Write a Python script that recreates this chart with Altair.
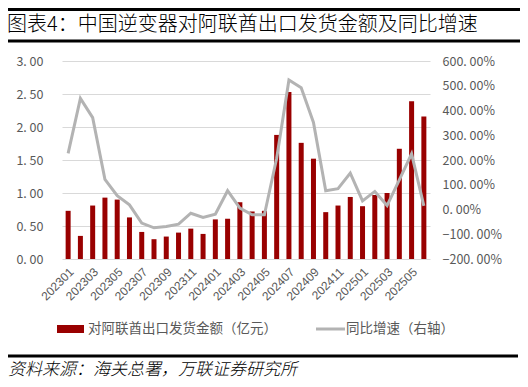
import altair as alt
import pandas as pd

months = ["202301", "202302", "202303", "202304", "202305", "202306", "202307", "202308",
          "202309", "202310", "202311", "202312", "202401", "202402", "202403", "202404",
          "202405", "202406", "202407", "202408", "202409", "202410", "202411", "202412",
          "202501", "202502", "202503", "202504", "202505", "202506"]
amount = [0.73, 0.35, 0.81, 0.93, 0.90, 0.63, 0.41, 0.30, 0.34, 0.40, 0.46, 0.38,
          0.60, 0.61, 0.86, 0.72, 0.73, 1.88, 2.53, 1.76, 1.52, 0.71, 0.81, 0.94,
          0.80, 0.97, 1.00, 1.67, 2.39, 2.16]
yoy = [227, 449, 371, 122, 56, 19, -55, -74, -69, -59, -15, -32,
       -19, 76, 6, -21, -21, 207, 523, 492, 352, 76, 84, 147,
       35, 73, 16, 120, 225, 15]
label_months = months[::2]

title_text = "图表4：中国逆变器对阿联酋出口发货金额及同比增速"
legend_bar = "对阿联酋出口发货金额（亿元）"
legend_line = "同比增速（右轴）"
source_text = "资料来源：海关总署，万联证券研究所"

df = pd.DataFrame({"month": months, "amount": amount, "yoy": yoy})

FONT = "Noto Sans CJK SC"
GREY = "#595959"

x_enc = alt.X("month:O", sort=months, title=None,
              scale=alt.Scale(paddingInner=0, paddingOuter=0),
              axis=alt.Axis(values=label_months, labelAngle=-45, labelFontSize=12,
                            labelColor=GREY, labelFont="Liberation Sans", ticks=False,
                            domain=False, grid=False, labelPadding=7))

bars = alt.Chart(df).mark_bar(size=5, color="#990000").encode(
    x=x_enc,
    y=alt.Y("amount:Q", title=None, scale=alt.Scale(domain=[0, 3], nice=False),
            axis=alt.Axis(values=[0, 0.5, 1, 1.5, 2, 2.5, 3], grid=True, gridColor="#d9d9d9",
                          domain=False, ticks=False, labelPadding=19, labelFontSize=12.5,
                          labelColor=GREY, labelFont=FONT,
                          labelExpr="replace(format(datum.value, '.2f'), '.', '. ')"))
)

line = alt.Chart(df).mark_line(color="#b3b3b3", strokeWidth=3).encode(
    x=alt.X("month:O", sort=months),
    y=alt.Y("yoy:Q", title=None, scale=alt.Scale(domain=[-200, 600], nice=False),
            axis=alt.Axis(orient="right", values=list(range(-200, 601, 100)), grid=False,
                          domain=False, ticks=False, labelPadding=12, labelFontSize=12.5,
                          labelColor=GREY, labelFont=FONT,
                          labelExpr="replace(format(datum.value, '.2f'), '.', '. ') + '%'"))
)

one = pd.DataFrame({"a": [0]})

def rule(x1, x2, y, w, color="#000000"):
    return alt.Chart(one).mark_rule(color=color, strokeWidth=w).encode(
        x=alt.value(x1), x2=alt.value(x2), y=alt.value(y))

def text(t, x, y, size, color="#000000", style="normal", weight="normal"):
    return alt.Chart(one).mark_text(text=t, align="left", baseline="middle", font=FONT,
                                    fontSize=size, color=color, fontStyle=style,
                                    fontWeight=weight).encode(
        x=alt.value(x), y=alt.value(y))

top_rule = rule(-54, 458, -51.5, 3)
title_rule = rule(-54, 458, -20, 3)
title = text(title_text, -55, -36, 20, "#000000", "normal", 300)
leg_rect = alt.Chart(one).mark_rect(color="#990000").encode(
    x=alt.value(-5), x2=alt.value(22), y=alt.value(264), y2=alt.value(272))
leg_text1 = text(legend_bar, 26, 268, 13.5, GREY)
leg_line = rule(254, 283, 268, 3, "#b3b3b3")
leg_text2 = text(legend_line, 284, 268, 13.5, GREY)
src_rule = rule(-54, 456, 295, 3)
src = text(source_text, -54, 309, 17, "#000000", "italic", 300)

chart = alt.layer(bars, line, top_rule, title_rule, title, leg_rect, leg_text1,
                  leg_line, leg_text2, src_rule, src).resolve_scale(y="independent").properties(
    width=368, height=198, autosize=alt.AutoSizeParams(type="none"),
    padding={"left": 54, "top": 53, "right": 90, "bottom": 120}
).configure_view(stroke=None)

chart.save("out.html", embed_options={"renderer": "svg", "actions": False})
